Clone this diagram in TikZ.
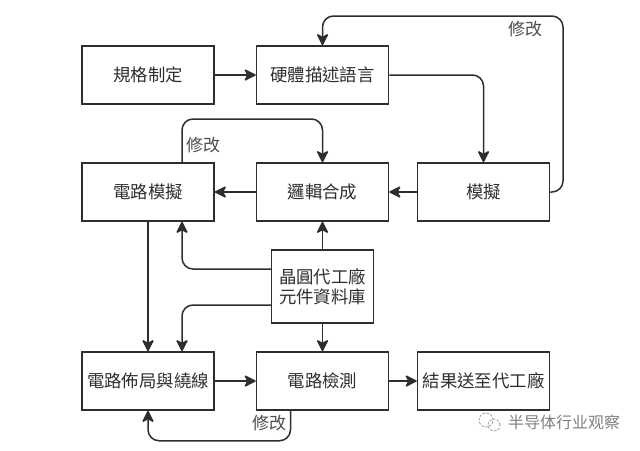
\documentclass[tikz,border=0pt]{standalone}
\usepackage{fontspec}
\newfontfamily\cjk{Noto Sans CJK TC}
\usetikzlibrary{arrows.meta}
\definecolor{inkgray}{HTML}{2E2E2E}
\begin{document}
\begin{tikzpicture}[x=1pt,y=1pt]
\tikzset{box style/.style = {draw=inkgray, line width=1.5pt, text=inkgray, inner sep=0pt, align=center,
    minimum width=132pt, minimum height=58pt, font=\cjk\fontsize{17.4}{20}\selectfont}}
\tikzset{link style/.style = {draw=inkgray, line width=1.5pt, rounded corners=11pt,
    -{Stealth[length=13pt,width=13pt,inset=3.5pt,round=false]}}}
\tikzset{note style/.style = {text=inkgray!85, inner sep=0pt, font=\cjk\fontsize{17}{20}\selectfont}}
\useasboundingbox (0,0) rectangle (640,-450);
% hàng 1
\node[box style] (spec) at (148,-75) {規格制定};
\node[box style] (hdl) at (322.5,-75) {硬體描述語言};
% hàng 2
\node[box style] (cirsim) at (148,-192) {電路模擬};
\node[box style] (synth) at (322.5,-192) {邏輯合成};
\node[box style] (sim) at (483.5,-192) {模擬};
% hàng 3
\node[box style, minimum width=102pt, minimum height=73pt] (fab) at (322.5,-286.5) {晶圓代工廠\\元件資料庫};
% hàng 4
\node[box style] (layout) at (148,-381) {電路佈局與繞線};
\node[box style] (check) at (322.5,-381) {電路檢測};
\node[box style] (result) at (483.5,-381) {結果送至代工廠};
% mũi tên thẳng
\draw[link style] (spec) -- (hdl);
\draw[link style] (sim) -- (synth);
\draw[link style] (synth) -- (cirsim);
\draw[link style] (cirsim) -- (layout);
\draw[link style] (fab) -- (synth);
\draw[link style] (fab) -- (check);
\draw[link style] (layout) -- (check);
\draw[link style] (check) -- (result);
\draw[link style] (hdl.east) -| (sim.north);
% vòng sửa
\coordinate (topright) at (563,-16);
\coordinate (cirsimup) at ([xshift=34pt]cirsim.north);
\coordinate (cirsimtop) at (182,-119);
\coordinate (checkout) at ([xshift=-32pt]check.south);
\coordinate (checkdown) at ([yshift=-30pt]checkout);
\draw[link style] (sim.east) -- (sim.east -| topright) -- (topright) -| (hdl.north);
\draw[link style] (cirsimup) -- (cirsimtop) -| (synth.north);
\draw[link style] (checkout) -- (checkdown) -| (layout.south);
% hai nhánh từ thư viện
\coordinate (fabup) at ([yshift=17.5pt]fab.west);
\coordinate (fabdown) at ([yshift=-18.5pt]fab.west);
\coordinate (cirsimin) at ([xshift=34pt]cirsim.south);
\coordinate (layoutin) at ([xshift=34pt]layout.north);
\draw[link style] (fabup) -| (cirsimin);
\draw[link style] (fabdown) -| (layoutin);
% chữ
\node[note style] (note1) at (525,-29) {修改};
\node[note style] (note2) at (203,-145) {修改};
\node[note style] (note3) at (269,-423) {修改};
% dấu mờ
\node[text=black!50, inner sep=0pt, font=\cjk\fontsize{16}{18}\selectfont] (mark) at (564,-422) {半导体行业观察};
\draw[black!40, line width=0.8pt, dash pattern=on 2.5pt off 1.5pt] (486,-420) circle (7pt);
\draw[black!40, line width=0.8pt, dash pattern=on 2.5pt off 1.5pt] (494,-425) circle (6pt);
\end{tikzpicture}
\end{document}
